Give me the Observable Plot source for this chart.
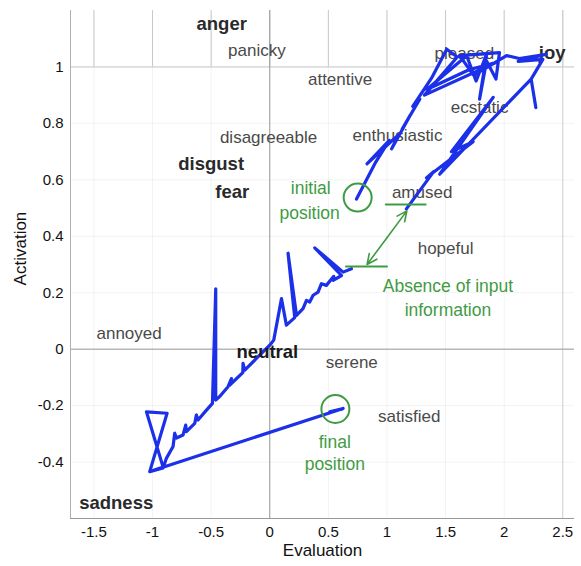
<!DOCTYPE html>
<html><head><meta charset="utf-8">
<script src="https://cdn.jsdelivr.net/npm/d3@7"></script>
<script src="https://cdn.jsdelivr.net/npm/@observablehq/plot@0.6"></script>
<style>body{margin:0;background:#fff;font-family:"Liberation Sans",Arial,sans-serif}</style>
</head><body><div id="chart"></div>
<script>
const xTicks = [-1.5, -1, -0.5, 0, 0.5, 1, 1.5, 2, 2.5];
const yTicks = [-0.4, -0.2, 0, 0.2, 0.4, 0.6, 0.8, 1];

const emotionNames = ["anger","panicky","attentive","pleased","joy","ecstatic","disagreeable","enthusiastic","disgust","fear","amused","hopeful","annoyed","neutral","serene","satisfied","sadness"];
const emotionX = [-0.41,-0.11,0.60,1.66,2.41,1.79,-0.01,1.09,-0.50,-0.32,1.30,1.50,-1.20,-0.02,0.70,1.19,-1.31];
const emotionY = [1.152,1.057,0.954,1.046,1.049,0.855,0.749,0.756,0.657,0.555,0.555,0.357,0.057,-0.011,-0.046,-0.240,-0.544];
const emotionBold = [true,false,false,false,true,false,false,false,true,true,false,false,false,true,false,false,true];

// trajectory before the absence of input
const trajectoryBefore = [
  [0.74,0.532],[0.90,0.66],[1.02,0.74],[0.83,0.657],[1.10,0.76],[1.04,0.71],[1.20,0.83],
  [1.13,0.78],[1.28,0.886],[1.22,0.86],[1.38,0.96],[1.51,1.063],[1.60,1.035],[1.32,0.90],
  [1.93,1.016],[1.70,0.99],[1.34,0.92],[1.68,1.04],[1.76,0.95],[1.85,1.045],[1.79,0.886],
  [1.85,1.021],[1.93,0.957],[1.96,1.051],[1.62,1.04],[1.74,0.97],[2.02,1.04],[2.13,1.03],
  [2.36,1.045],[2.12,1.02],[2.33,1.027],[2.23,0.957],[2.27,0.856],[2.23,0.957],[1.45,0.62],
  [1.906,0.892],[1.55,0.70],[1.735,0.735],[1.337,0.607],[1.40,0.63],[1.166,0.497]
];
// trajectory after the absence of input
const trajectoryAfter = [
  [0.697,0.285],[0.626,0.273],[0.384,0.359],[0.612,0.261],[0.541,0.244],[0.546,0.258],
  [0.483,0.226],[0.441,0.232],[0.412,0.202],[0.370,0.191],[0.341,0.167],[0.313,0.173],
  [0.284,0.144],[0.228,0.120],[0.156,0.340],[0.213,0.112],[0.142,0.085],[0.100,0.179],
  [0.034,0.032],[0.0,0.014],[-0.114,-0.033],[-0.213,-0.074],[-0.228,-0.050],[-0.230,-0.083],
  [-0.341,-0.127],[-0.327,-0.104],[-0.356,-0.133],[-0.427,-0.168],[-0.461,-0.180],
  [-0.461,0.214],[-0.489,-0.192],[-0.54,-0.216],[-0.612,-0.251],[-0.626,-0.233],[-0.640,-0.263],
  [-0.711,-0.292],[-0.717,-0.269],[-0.740,-0.304],[-0.796,-0.315],[-0.811,-0.298],[-0.825,-0.345],
  [-0.881,-0.386],[-0.910,-0.421],[-1.024,-0.434],[-0.876,-0.227],[-1.052,-0.222],[-0.91,-0.418],
  [-0.996,-0.430],[0.626,-0.210],[0.512,-0.222],[0.614,-0.213]
];

const initialPos = [0.75, 0.537];
const finalPos = [0.56, -0.212];
const gapUpper = [[0.99, 0.513], [1.33, 0.513]];
const gapLower = [[0.65, 0.293], [1.00, 0.293]];
const gapArrowEnds = [[1.17, 0.49], [0.83, 0.30]];
const gapArrowMid = [1.0, 0.395];
const noteTexts = ["initial", "position", "final", "position", "Absence of input", "information"];
const noteX = [0.35, 0.34, 0.555, 0.555, 1.52, 1.52];
const noteY = [0.569, 0.48, -0.329, -0.41, 0.223, 0.138];
const axisLabelX = ["Evaluation"];
const axisLabelY = ["Activation"];

const emotions = emotionNames.map((n, i) => ({name: n, x: emotionX[i], y: emotionY[i], bold: emotionBold[i]}));
const notes = noteTexts.map((t, i) => ({t, x: noteX[i], y: noteY[i]}));
const green = "#3f9b43";
const blue = "#1b30e8";
const fmt = d => String(d);

const chart = Plot.plot({
  width: 581, height: 566,
  marginLeft: 70, marginRight: 7, marginTop: 10, marginBottom: 48,
  style: {fontFamily: '"Liberation Sans", Arial, sans-serif', background: "#fff"},
  x: {domain: [-1.7, 2.6]},
  y: {domain: [-0.6, 1.2]},
  marks: [
    Plot.gridX(xTicks, {stroke: "#000", strokeOpacity: 0.05}),
    Plot.gridY(yTicks, {stroke: "#000", strokeOpacity: 0.05}),
    Plot.ruleX(xTicks, {y1: 1, y2: 1.2, stroke: "#c8c8c8"}),
    Plot.ruleY([1], {stroke: "#c8c8c8"}),
    Plot.ruleX([2.5], {stroke: "#d0d0d0"}),
    Plot.ruleX([0], {stroke: "#999"}),
    Plot.ruleY([0], {stroke: "#999"}),
    Plot.ruleX([-1.7], {stroke: "#b0b0b0"}),
    Plot.ruleY([-0.6], {stroke: "#999"}),
    Plot.axisX(xTicks, {tickSize: 0, tickPadding: 8, tickFormat: fmt, fontSize: 15, label: null, color: "#111"}),
    Plot.axisY(yTicks, {tickSize: 0, tickPadding: 7, tickFormat: fmt, fontSize: 15, label: null, color: "#111"}),
    Plot.text(axisLabelX, {frameAnchor: "bottom", dy: 37, fontSize: 17, fill: "#111"}),
    Plot.text(axisLabelY, {y: [0.226], frameAnchor: "left", dx: -50, rotate: -90, fontSize: 17, fill: "#111"}),
    Plot.text(emotions.filter(d => !d.bold), {x: "x", y: "y", text: "name", fontSize: 17, fill: "#4a4a4a"}),
    Plot.text(emotions.filter(d => d.bold && d.name !== "neutral"), {x: "x", y: "y", text: "name", fontSize: 18.5, fontWeight: "bold", fill: "#2a2a2a"}),
    Plot.line(trajectoryBefore, {x: d => d[0], y: d => d[1], stroke: blue, strokeWidth: 3.2, strokeLinejoin: "round", strokeLinecap: "round"}),
    Plot.line(trajectoryAfter, {x: d => d[0], y: d => d[1], stroke: blue, strokeWidth: 3.2, strokeLinejoin: "round", strokeLinecap: "round"}),
    Plot.text(emotions.filter(d => d.name === "neutral"), {x: "x", y: "y", text: "name", fontSize: 18.5, fontWeight: "bold", fill: "#1a1a1a"}),
    Plot.line(gapUpper, {x: d => d[0], y: d => d[1], stroke: green, strokeWidth: 2}),
    Plot.line(gapLower, {x: d => d[0], y: d => d[1], stroke: green, strokeWidth: 2}),
    Plot.arrow(gapArrowEnds, {x1: gapArrowMid[0], y1: gapArrowMid[1], x2: d => d[0], y2: d => d[1], stroke: green, strokeWidth: 1.6, headLength: 11, headAngle: 50}),
    Plot.dot([initialPos], {x: d => d[0], y: d => d[1], r: 14, stroke: green, strokeWidth: 2, fill: "none"}),
    Plot.dot([finalPos], {x: d => d[0], y: d => d[1], r: 14, stroke: green, strokeWidth: 2, fill: "none"}),
    Plot.text(notes, {x: "x", y: "y", text: "t", fontSize: 17.5, fill: green})
  ]
});
document.getElementById("chart").appendChild(chart);
</script>
</body></html>
